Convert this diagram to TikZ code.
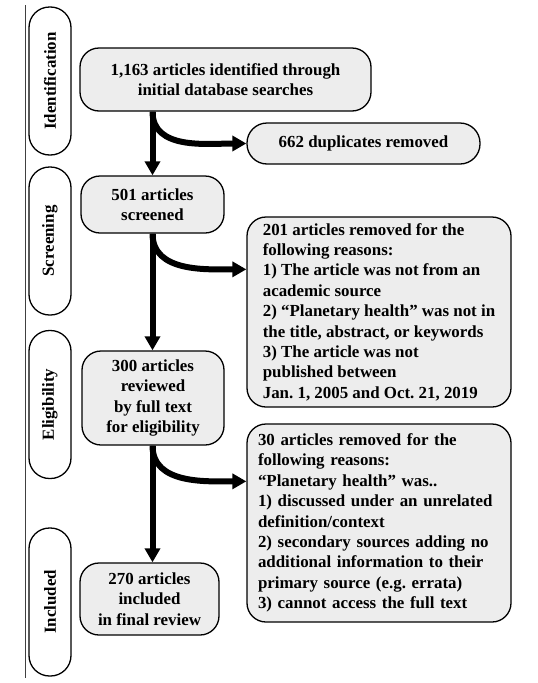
\documentclass[tikz,border=0pt]{standalone}
\usepackage{fontspec}
\setmainfont{Liberation Serif}
\usetikzlibrary{arrows.meta}
\begin{document}
\frenchspacing
\begin{tikzpicture}[x=1pt,y=-1pt,
  every node/.style={font=\bfseries\fontsize{16.9}{20.4}\selectfont\frenchspacing, text=black},
  phase/.style={draw=black, line width=1.3pt, fill=white, rounded corners=20.5pt,
    minimum width=148pt, minimum height=42pt, inner sep=0pt, rotate=90},
  gbox/.style={draw=black, line width=1.3pt, fill=black!7, rounded corners=19pt,
    inner sep=0pt, align=center},
  rbox/.style={gbox, align=left},
  flow/.style={line width=6pt, -{Triangle[length=14pt,width=15pt]}}
]
\useasboundingbox (0,0) rectangle (538,683);
\draw[line width=0.8pt, black!75] (25,5) -- (25,678);

% phase labels
\node[phase] (pid)  at (50,81)    {Identification};
\node[phase] (pscr) at (50,241)   {Screening};
\node[phase] (peli) at (50,404.5) {Eligibility};
\node[phase] (pinc) at (50,602)   {Included};

% boxes
\node[gbox, minimum width=291pt, minimum height=63pt] (b1) at (225.5,79.5)
  {1,163 articles identified through\\initial database searches};
\node[gbox, rounded corners=20pt, minimum width=233pt, minimum height=41pt] (dup) at (363.5,143.5)
  {662 duplicates removed};
\node[gbox, minimum width=143pt, minimum height=57pt] (b2) at (152.5,204.5)
  {501 articles\\screened};
\node[rbox, minimum width=264pt, minimum height=190pt] (rem1) at (379,312)
  {201 articles removed for the\\following reasons:\\1) The article was not from an\\academic source\\2) “Planetary health” was not in\\the title, abstract, or keywords\\3) The article was not\\published between\\Jan. 1, 2005 and Oct. 21, 2019};
\node[gbox, minimum width=142pt, minimum height=94pt] (b3) at (153,398)
  {300 articles\\reviewed\\by full text\\for eligibility};
\node[rbox, text width=242pt, minimum width=264pt, minimum height=198pt] (rem2) at (379,523)
  {30 articles removed for the\\following reasons:\\“Planetary health” was..\\1) discussed under an unrelated\\definition/context\\2) secondary sources adding no\\additional information to their\\primary source (e.g. errata)\\3) cannot access the full text};
\node[gbox, minimum width=139pt, minimum height=72pt] (b4) at (149.5,599)
  {270 articles\\included\\in final review};

% arrow targets
\coordinate (t1) at ([yshift=-53pt]rem1.north west);
\coordinate (t2) at ([yshift=-58pt]rem2.north west);
\coordinate (s1) at (b1.south -| b2.north);
\coordinate (s3) at (b3.south -| b2.north);

% connectors
\draw[flow] (s1) -- (b2.north);
\draw[flow] (s1) to[out=-90,in=180] (dup.west);
\draw[flow] (b2.south) -- (b2.south |- b3.north);
\draw[flow] (b2.south) to[out=-90,in=180] (t1);
\draw[flow] (s3) -- (s3 |- b4.north);
\draw[flow] (s3) to[out=-90,in=180] (t2);
\end{tikzpicture}
\end{document}
